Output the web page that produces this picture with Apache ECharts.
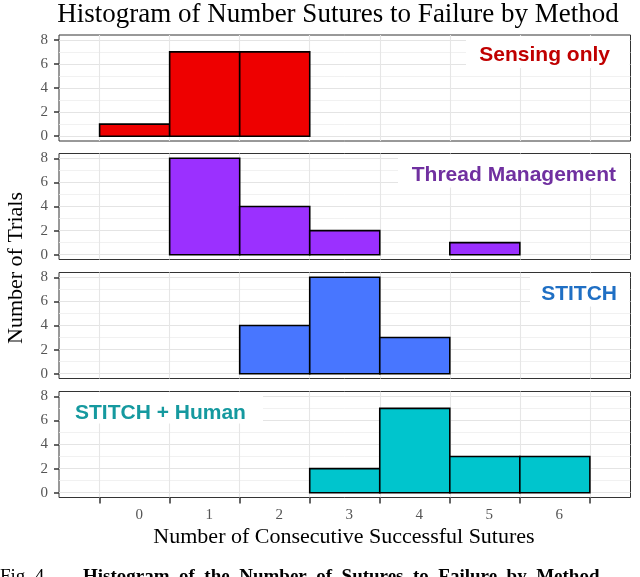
<!DOCTYPE html>
<html><head><meta charset="utf-8">
<script src="https://cdn.jsdelivr.net/npm/echarts@6/dist/echarts.min.js"></script>
<style>html,body{margin:0;padding:0;background:#fff}#c{width:640px;height:577px}</style>
</head><body><div id="c"></div>
<script>
// ---- data ----
const binValues = [0, 1, 2, 3, 4, 5, 6];
const binEdges = [-0.5, 0.5, 1.5, 2.5, 3.5, 4.5, 5.5, 6.5];
const xTickLabels = ['0', '1', '2', '3', '4', '5', '6'];
const yTicks = [0, 2, 4, 6, 8];
const yMinorTicks = [1, 3, 5, 7];
const methods = ['Sensing only', 'Thread Management', 'STITCH', 'STITCH + Human'];
const sensingOnly = [1, 7, 7, 0, 0, 0, 0];
const threadManagement = [0, 8, 4, 2, 0, 1, 0];
const stitch = [0, 0, 4, 8, 3, 0, 0];
const stitchHuman = [0, 0, 0, 2, 7, 3, 3];
const seriesCounts = [sensingOnly, threadManagement, stitch, stitchHuman];
const barColors = ['#ee0000', '#9b30ff', '#4876ff', '#00c5cd'];
const labelColors = ['#c00000', '#7030a0', '#1f6fc4', '#15999f'];

// ---- layout ----
const SERIF = '"Liberation Serif", "Times New Roman", serif';
const SANS = '"Liberation Sans", Arial, sans-serif';
const panelTops = [35, 153.5, 272.5, 391.5];
const panelH = 106, panelL = 59, panelW = 571.5;

const chart = echarts.init(document.getElementById('c'), null, {renderer: 'canvas'});
const grids = [], xAxes = [], yAxes = [], series = [];
panelTops.forEach((t, i) => {
  grids.push({left: panelL, top: t, width: panelW, height: panelH, show: true,
    borderColor: '#333', borderWidth: 1, backgroundColor: '#fff'});
  const last = i === panelTops.length - 1;
  xAxes.push({gridIndex: i, type: 'value', min: -1.08, max: 7.08, position: 'bottom',
    axisLine: {show: false, onZero: false},
    axisTick: {show: last, customValues: binEdges, length: 6, lineStyle: {color: '#333', width: 1.5}},
    axisLabel: {show: last, customValues: binValues, formatter: v => xTickLabels[binValues.indexOf(v)],
      color: '#555', fontFamily: SERIF, fontSize: 15, margin: 10, padding: [0, 0, 0, 9]},
    splitLine: {show: true, lineStyle: {color: '#e6e6e6', width: 1.1}}});
  yAxes.push({gridIndex: i, type: 'value', min: -0.4, max: 8.4, position: 'left',
    axisLine: {show: false, onZero: false},
    axisTick: {show: true, customValues: yTicks, length: 5, lineStyle: {color: '#333', width: 1.5}},
    axisLabel: {customValues: yTicks, color: '#555', fontFamily: SERIF, fontSize: 15, margin: 11},
    splitLine: {show: true, lineStyle: {color: '#e4e4e4', width: 1.1}}});
  yAxes.push({gridIndex: i, type: 'value', min: -0.4, max: 8.4, position: 'left',
    axisLine: {show: false, onZero: false},
    axisTick: {show: false, customValues: yMinorTicks},
    axisLabel: {show: false, customValues: yMinorTicks},
    splitLine: {show: true, lineStyle: {color: '#eeeeee', width: 0.8}}});
  const color = barColors[i];
  series.push({type: 'custom', xAxisIndex: i, yAxisIndex: 2 * i, z: 5,
    data: binValues.map((b, k) => [b, seriesCounts[i][k]]),
    renderItem(params, api) {
      const x = api.value(0), v = api.value(1);
      if (!v) return null;
      const p0 = api.coord([x - 0.5, 0]);
      const p1 = api.coord([x + 0.5, v]);
      return {type: 'rect',
        shape: {x: p0[0], y: p1[1], width: p1[0] - p0[0], height: p0[1] - p1[1]},
        style: {fill: color, stroke: '#000', lineWidth: 1.6}};
    }});
});

// label boxes (x, y, w, h) and text anchors
const labelBoxes = [
  {bx: 466, by: 36, bw: 163.5, bh: 32, tx: 610, ty: 55, align: 'right'},
  {bx: 398, by: 154.5, bw: 231.5, bh: 33, tx: 616, ty: 175, align: 'right'},
  {bx: 530, by: 273.5, bw: 99.5, bh: 33, tx: 617, ty: 294, align: 'right'},
  {bx: 60, by: 392.5, bw: 203, bh: 31, tx: 75, ty: 413, align: 'left'}
];
const graphic = [];
labelBoxes.forEach((b, i) => {
  graphic.push({type: 'rect', z: 20, shape: {x: b.bx, y: b.by, width: b.bw, height: b.bh},
    style: {fill: '#fff'}});
  graphic.push({type: 'text', z: 21, x: b.tx, y: b.ty,
    style: {text: methods[i], fill: labelColors[i], font: 'bold 21px ' + SANS,
      textAlign: b.align, textVerticalAlign: 'middle'}});
});
graphic.push({type: 'text', z: 21, x: 338, y: 15,
  style: {text: 'Histogram of Number Sutures to Failure by Method', fill: '#000',
    font: '27px ' + SERIF, textAlign: 'center', textVerticalAlign: 'middle'}});
graphic.push({type: 'text', z: 21, x: 344, y: 537,
  style: {text: 'Number of Consecutive Successful Sutures', fill: '#000',
    font: '22px ' + SERIF, textAlign: 'center', textVerticalAlign: 'middle'}});
graphic.push({type: 'text', z: 21, x: 16, y: 268, rotation: Math.PI / 2,
  style: {text: 'Number of Trials', fill: '#000',
    font: '22px ' + SERIF, textAlign: 'center', textVerticalAlign: 'middle'}});
graphic.push({type: 'text', z: 21, x: 0, y: 577,
  style: {text: 'Fig. 4.', fill: '#000', font: '19px ' + SERIF,
    textAlign: 'left', textVerticalAlign: 'middle'}});
graphic.push({type: 'text', z: 21, x: 83, y: 577,
  style: {text: 'Histogram  of  the  Number  of  Sutures  to  Failure  by  Method', fill: '#000',
    font: 'bold 19px ' + SERIF, textAlign: 'left', textVerticalAlign: 'middle'}});

chart.setOption({
  animation: false,
  backgroundColor: '#fff',
  grid: grids, xAxis: xAxes, yAxis: yAxes, series: series, graphic: graphic
});
</script></body></html>
